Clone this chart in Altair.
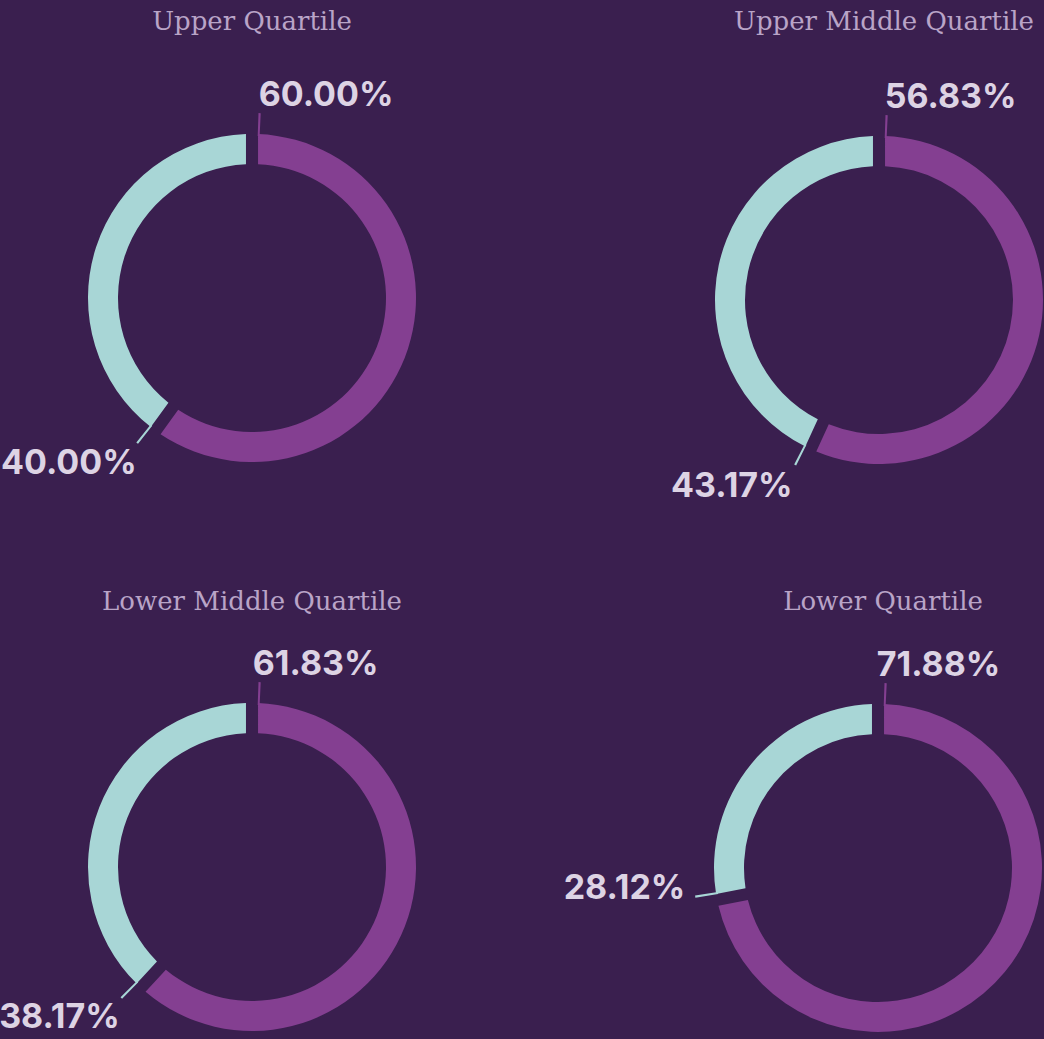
import math
import altair as alt
import pandas as pd

# ---- data ----
quartiles = ["Upper Quartile", "Upper Middle Quartile", "Lower Middle Quartile", "Lower Quartile"]
purple_pct = [60.00, 56.83, 61.83, 71.88]
teal_pct = [40.00, 43.17, 38.17, 28.12]

# ---- styles ----
BG = "#3a1f4f"
PURPLE = "#843f91"
TEAL = "#a8d6d6"
TITLE_COLOR = "#b9a4c7"
LABEL_COLOR = "#ddd3e4"

centers = [(252, 298), (879, 300), (252, 867), (878, 868)]
title_y = [30, 30, 610, 610]
purple_dx = [0, -1, -6, -8]
# teal label placement: (align, baseline, dx, dy)
teal_style = [("right", "top", -2, 4), ("right", "top", -4, 5), ("right", "top", -3, 3), ("right", "alphabetic", -11, 2)]

R_OUT, R_IN = 164, 134
TICK_OFF, TICK_W = 0.56, 0.19
LABEL_SIZE = 34

theta_scale = alt.Scale(domain=[0, 100], range=[0, 2 * math.pi])
color_scale = alt.Scale(domain=["purple", "teal"], range=[PURPLE, TEAL])

layers = []
for i, q in enumerate(quartiles):
    cx, cy = centers[i]
    p, t = purple_pct[i], teal_pct[i]
    seg = pd.DataFrame({
        "segment": ["purple", "teal"],
        "start": [0.0, p],
        "end": [p, p + t],
        "label": [f"{p:.2f}%", f"{t:.2f}%"],
    })
    seg["tick_start"] = seg["start"] + TICK_OFF
    seg["tick_end"] = seg["tick_start"] + TICK_W

    arcs = alt.Chart(seg).mark_arc(radius=R_OUT, radius2=R_IN, padAngle=0.057).encode(
        x=alt.value(cx), y=alt.value(cy),
        theta=alt.Theta("start:Q", scale=theta_scale, stack=None),
        theta2="end:Q",
        color=alt.Color("segment:N", scale=color_scale, legend=None),
    )
    ticks = alt.Chart(seg).mark_arc(radius=R_OUT + 21, radius2=R_OUT - 2).encode(
        x=alt.value(cx), y=alt.value(cy),
        theta=alt.Theta("tick_start:Q", scale=theta_scale, stack=None),
        theta2="tick_end:Q",
        color=alt.Color("segment:N", scale=color_scale, legend=None),
    )
    plab = alt.Chart(seg[seg.segment == "purple"]).mark_text(
        align="left", baseline="alphabetic", dx=purple_dx[i], radius=192,
        font="Inter", fontWeight="bold", fontSize=LABEL_SIZE, color=LABEL_COLOR,
    ).encode(
        x=alt.value(cx), y=alt.value(cy),
        theta=alt.Theta("tick_start:Q", scale=theta_scale, stack=None),
        text="label:N",
    )
    a, b, dx, dy = teal_style[i]
    tlab = alt.Chart(seg[seg.segment == "teal"]).mark_text(
        align=a, baseline=b, dx=dx, dy=dy, radius=R_OUT + 20,
        font="Inter", fontWeight="bold", fontSize=LABEL_SIZE, color=LABEL_COLOR,
    ).encode(
        x=alt.value(cx), y=alt.value(cy),
        theta=alt.Theta("tick_start:Q", scale=theta_scale, stack=None),
        text="label:N",
    )
    title = alt.Chart(pd.DataFrame({"quartile": [q]})).mark_text(
        align="center", baseline="alphabetic", font="DejaVu Serif", fontSize=26,
        color=TITLE_COLOR,
    ).encode(x=alt.value(cx + (0 if i % 2 == 0 else 5)), y=alt.value(title_y[i]), text="quartile:N")
    layers += [arcs, ticks, plab, tlab, title]

chart = alt.layer(*layers).properties(
    width=1044, height=1039, background=BG, padding=0,
    autosize=alt.AutoSizeParams(type="none"),
).configure_view(stroke=None)

chart.save("out.html", embed_options={"renderer": "svg", "actions": False})
